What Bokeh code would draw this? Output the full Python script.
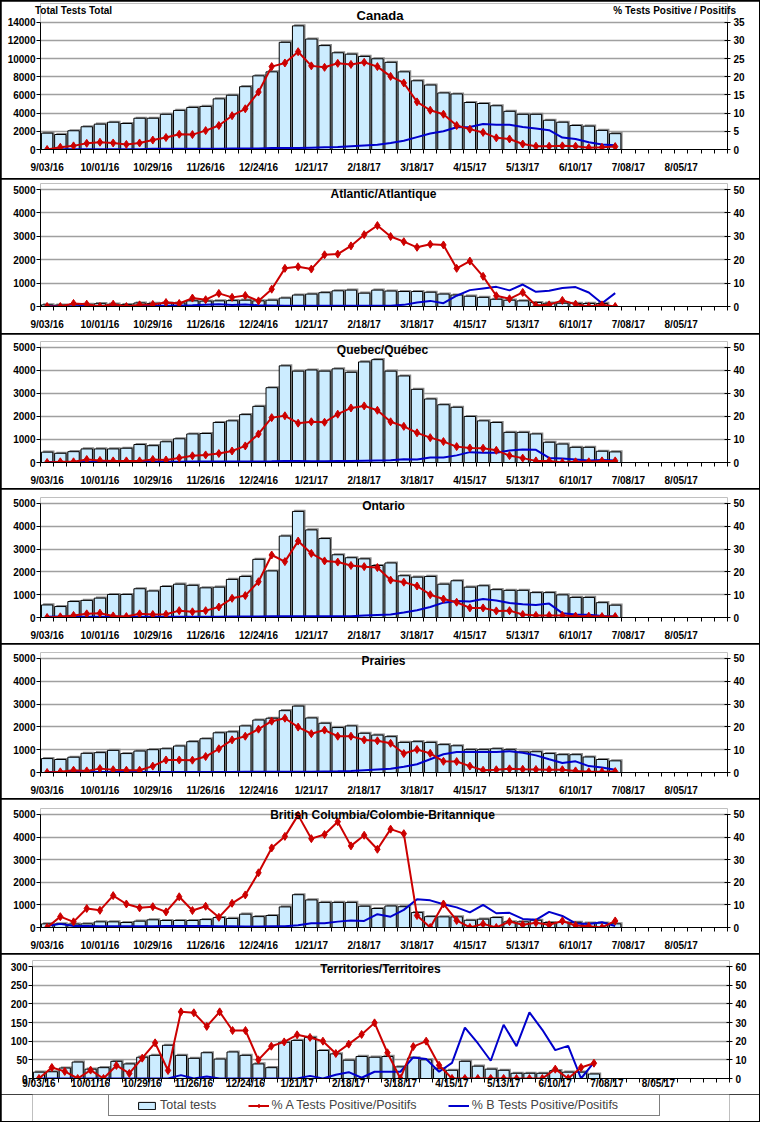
from bokeh.plotting import figure
from bokeh.models import Range1d, LinearAxis, FixedTicker, Label, Legend, LegendItem, ColumnDataSource
from bokeh.layouts import column
from bokeh.embed import file_html
from bokeh.resources import INLINE

# ---------------- data ----------------
tick_labels = ["9/03/16", "10/01/16", "10/29/16", "11/26/16", "12/24/16", "1/21/17", "2/18/17",
               "3/18/17", "4/15/17", "5/13/17", "6/10/17", "7/08/17", "8/05/17"]

canada_tests = [1800, 1650, 2060, 2500, 2790, 3000, 2860, 3440, 3440, 3870, 4300, 4630, 4740, 5570, 5970,
                6910, 8100, 8540, 11790, 13600, 12150, 11430, 10640, 10490, 10240, 9980, 9590, 8540, 7560,
                7090, 6220, 6110, 5170, 5060, 4810, 4200, 3870, 3870, 3220, 3000, 2640, 2570, 2100, 1740]
canada_a = [0, 0.6, 1.0, 1.7, 2.0, 1.8, 1.4, 1.8, 2.6, 3.3, 4.2, 4.1, 5.2, 6.6, 9.3, 11.2, 15.8, 22.8, 23.8,
            26.9, 23.0, 22.6, 23.7, 23.4, 24.0, 22.8, 20.1, 18.3, 13.1, 10.8, 9.7, 6.6, 5.6, 4.7, 3.2, 2.9,
            1.5, 0.9, 0.9, 1.0, 0.9, 0.5, 0.6, 0.8]
canada_b = [0.1, 0.1, 0.1, 0.1, 0.1, 0.1, 0.1, 0.1, 0.2, 0.2, 0.2, 0.2, 0.2, 0.2, 0.3, 0.3, 0.3, 0.4, 0.4,
            0.4, 0.5, 0.6, 0.7, 0.9, 1.1, 1.3, 1.8, 2.4, 3.4, 4.4, 5.0, 6.1, 6.2, 7.0, 6.8, 6.8, 6.2, 5.8,
            5.3, 3.3, 2.9, 2.0, 1.4, 1.2]

atl_tests = [70, 60, 80, 90, 120, 100, 80, 150, 130, 140, 150, 240, 230, 240, 250, 270, 240, 270, 360, 490,
             530, 590, 670, 700, 570, 700, 660, 640, 640, 610, 530, 490, 440, 390, 310, 270, 240, 170, 140,
             140, 130, 130, 130, 0]
atl_a = [0, 0, 1.3, 1.0, 0, 1.0, 0, 0.7, 0.9, 1.7, 1.3, 3.6, 2.9, 5.6, 3.9, 4.7, 2.4, 7.4, 16.3, 17.0, 16.0,
         22.1, 22.4, 25.9, 30.7, 34.6, 29.9, 27.7, 25.3, 26.6, 26.3, 16.3, 19.4, 12.9, 4.6, 3.3, 6.0, 0.4,
         0.7, 2.6, 1.0, 0, 0.7, 0]
atl_b = [0.1, 0.1, 0.1, 0.2, 0.2, 0.2, 0.2, 0.2, 0.3, 0.3, 0.4, 0.5, 0.8, 1.0, 0.6, 0.9, 0.5, 0.4, 0.3, 0.3,
         0.3, 0.3, 0.3, 0.3, 0.3, 0.3, 0.3, 0.7, 1.7, 2.4, 1.4, 4.6, 7.0, 7.7, 8.4, 6.9, 9.4, 6.3, 6.7, 7.9,
         8.3, 6.0, 1.4, 5.7]

que_tests = [450, 400, 470, 590, 590, 590, 620, 780, 730, 900, 1030, 1240, 1260, 1740, 1810, 2080, 2440,
             3250, 4200, 3970, 4020, 3970, 4070, 3920, 4370, 4470, 3970, 3760, 3180, 2760, 2510, 2400, 2000,
             1810, 1740, 1310, 1310, 1240, 880, 800, 660, 660, 490, 460]
que_a = [0, 0.3, 0.3, 1.3, 0.9, 0.7, 0.7, 0.7, 1.3, 1.1, 2.0, 2.9, 3.3, 3.9, 5.0, 7.2, 12.4, 19.5, 20.3, 17.1,
         17.7, 17.5, 21.0, 23.7, 24.6, 22.7, 17.7, 15.7, 12.9, 10.8, 9.1, 6.9, 6.3, 6.2, 5.3, 3.0, 1.9, 0.7,
         0.7, 0, 0.3, 0.3, 0.7, 0.7]
que_b = [0.2, 0.2, 0.2, 0.2, 0.2, 0.3, 0.3, 0.3, 0.3, 0.3, 0.3, 0.4, 0.4, 0.4, 0.4, 0.4, 0.4, 0.5, 0.7, 0.6,
         0.5, 0.5, 0.6, 0.7, 0.8, 0.9, 1.0, 1.4, 1.3, 2.2, 2.2, 3.1, 4.5, 4.2, 4.2, 5.2, 5.7, 5.5, 2.0, 1.7,
         1.3, 0.9, 1.1, 0.9]

ont_tests = [550, 480, 700, 750, 850, 1010, 1010, 1260, 1160, 1360, 1460, 1410, 1300, 1330, 1670, 1800,
             2550, 2040, 3570, 4650, 3840, 3460, 2750, 2620, 2570, 2280, 2390, 1830, 1770, 1800, 1460, 1610,
             1330, 1390, 1220, 1190, 1190, 1090, 1090, 990, 880, 880, 650, 540]
ont_a = [0, 0.3, 0.9, 1.6, 1.9, 0.7, 0.4, 1.6, 1.3, 1.4, 3.0, 2.5, 3.0, 4.6, 8.4, 9.6, 15.7, 27.4, 24.5, 33.5,
         28.1, 24.8, 24.3, 22.8, 22.3, 21.9, 16.4, 15.5, 13.8, 10.0, 8.1, 6.7, 4.2, 4.2, 2.9, 3.0, 1.3, 0.9,
         0.9, 0.9, 0.6, 0.6, 0.4, 0.4]
ont_b = [0.3, 0.4, 0.4, 0.3, 0.3, 0.3, 0.3, 0.3, 0.3, 0.3, 0.3, 0.3, 0.3, 0.3, 0.4, 0.4, 0.4, 0.5, 0.5, 0.5,
         0.5, 0.5, 0.5, 0.6, 0.9, 1.1, 1.3, 2.2, 3.2, 4.6, 6.5, 7.2, 7.0, 8.1, 7.5, 6.4, 5.8, 5.5, 6.1, 1.9,
         1.3, 1.2, 0.7, 0.4]

pra_tests = [610, 570, 670, 840, 870, 970, 830, 940, 1000, 1040, 1160, 1350, 1480, 1740, 1780, 2040, 2300,
             2380, 2710, 2910, 2390, 2160, 1970, 2040, 1720, 1640, 1570, 1320, 1350, 1320, 1220, 1170, 1000,
             1000, 1040, 1000, 900, 910, 830, 780, 780, 680, 570, 510]
pra_a = [0, 0.3, 1.0, 0.7, 1.7, 1.2, 1.0, 1.0, 2.8, 5.5, 5.5, 5.4, 7.0, 10.4, 14.3, 15.9, 19.0, 22.5, 23.8,
         19.9, 17.0, 18.6, 15.9, 15.9, 14.3, 13.9, 12.8, 8.3, 10.1, 8.4, 4.9, 4.8, 2.8, 1.0, 1.2, 1.6, 1.4,
         1.3, 1.2, 1.2, 0.7, 0.3, 0.3, 0.4]
pra_b = [0.2, 0.2, 0.2, 0.2, 0.2, 0.2, 0.2, 0.2, 0.2, 0.2, 0.2, 0.2, 0.2, 0.2, 0.2, 0.3, 0.3, 0.3, 0.3, 0.3,
         0.3, 0.4, 0.5, 0.7, 1.0, 1.3, 1.6, 2.5, 3.6, 5.8, 8.0, 9.0, 9.0, 9.0, 9.0, 9.3, 8.7, 7.5, 5.8, 4.2,
         4.9, 2.8, 2.2, 1.2]

bc_tests = [160, 160, 150, 160, 250, 250, 220, 280, 340, 310, 310, 310, 350, 440, 400, 590, 480, 530, 910,
            1450, 1220, 1110, 1110, 1110, 940, 840, 950, 920, 660, 480, 470, 470, 320, 370, 440, 250, 250,
            320, 220, 220, 230, 190, 200, 160]
bc_a = [0, 4.8, 2.5, 8.4, 7.6, 14.1, 10.4, 8.7, 9.2, 6.9, 13.6, 7.5, 9.4, 4.5, 10.7, 14.4, 24.2, 35.2, 40.3,
        49.7, 39.3, 41.1, 46.8, 36.1, 40.8, 34.6, 43.5, 41.5, 5.3, 0, 10.4, 3.1, 0, 1.6, 0, 2.6, 1.2, 2.1,
        1.2, 2.9, 0.9, 0.6, 0, 2.9]
bc_b = [0.7, 1.6, 0.7, 0.7, 0.6, 0.6, 0.6, 0.6, 0.6, 0.7, 0.7, 0.7, 0.7, 0.6, 0.5, 0.4, 0.4, 0.5, 0.6, 1.0,
        1.9, 1.9, 2.6, 3.1, 2.9, 5.9, 4.8, 7.8, 12.5, 12.0, 10.3, 8.9, 6.7, 10.0, 6.3, 6.5, 3.8, 3.4, 6.9,
        5.1, 1.8, 1.6, 2.3, 0.7]

ter_tests = [17, 18, 28, 44, 25, 29, 46, 39, 57, 62, 89, 62, 54, 69, 52, 71, 62, 39, 29, 97, 102, 110, 75,
             66, 49, 59, 57, 59, 31, 55, 50, 26, 22, 46, 33, 25, 22, 14, 14, 14, 21, 17, 17, 12]
ter_a = [0, 5.9, 3.8, 0, 4.5, 0, 7.0, 2.7, 10.9, 19.1, 4.3, 35.7, 35.2, 27.9, 35.7, 25.7, 25.7, 10.0, 17.3,
         19.6, 23.4, 22.0, 20.0, 13.4, 18.4, 23.6, 29.8, 13.8, 0, 17.1, 20.0, 7.1, 0, 0, 0, 0, 0, 0, 0, 0,
         5.0, 0, 5.9, 8.2]
ter_b = [0, 0, 0, 0, 0, 0, 0, 0, 0, 0, 0, 1.8, 0, 1.1, 0, 0, 0, 0, 0, 0, 0, 1.4, 0, 2.0, 3.4, 0.4, 3.6, 3.6,
         3.6, 11.3, 10.4, 3.6, 8.4, 27.3, 18.9, 9.5, 28.8, 17.3, 35.4, 26.1, 15.2, 17.5, 0, 8.6]

legend_labels = ["Total tests", "% A Tests Positive/Positifs", "% B Tests Positive/Positifs"]

# ---------------- styling ----------------
FONT = "Liberation Sans"
BAR = "#CCECFF"
RED = "#CC0000"
BLUE = "#0000CC"
W = 758  # figure width (page x 1 .. 759)


def panel(title, tests, pa, pb, ymax, ystep, pmax, pstep, fig_top, h, data_top, data_bottom,
          frame_left, frame_right, title_xy, ext=6, nslots=52, title_size="12px", xstand=8):
    top = int(round(data_top - ext - fig_top))
    bottom = int(round(fig_top + h - data_bottom))
    left = int(round(frame_left - 1))
    right = int(round(1 + W - frame_right))
    fh = h - top - bottom
    dh = data_bottom - data_top
    scale = fh / dh
    p = figure(width=W, height=h, x_range=Range1d(-0.5, nslots - 0.5), y_range=Range1d(0, ymax * scale),
               output_backend="svg", toolbar_location=None,
               min_border_left=left, min_border_right=right, min_border_top=top, min_border_bottom=bottom)
    p.outline_line_color = None
    p.background_fill_color = "white"
    p.border_fill_color = "white"
    p.extra_y_ranges = {"pct": Range1d(0, pmax * scale)}
    off = 1.6 * ymax / dh
    xs = list(range(len(tests)))
    src = ColumnDataSource(dict(x=xs, xs=[v + 0.13 for v in xs], tests=tests,
                                shadow=[t + off if t > 0 else 0 for t in tests], a=pa, b=pb))
    p.vbar(x="xs", top="shadow", width=0.86, source=src, fill_color="#8a8a8a", line_color=None)
    p.vbar(x="x", top="tests", width=0.86, source=src, fill_color=BAR, line_color="black", line_width=1)
    p.line("x", "b", source=src, y_range_name="pct", line_color=BLUE, line_width=2)
    p.line("x", "a", source=src, y_range_name="pct", line_color=RED, line_width=2)
    p.scatter("x", "a", source=src, y_range_name="pct", marker="diamond", size=8,
              fill_color=RED, line_color=RED)

    # x axis: labels every 4 weeks, small ticks between weeks
    xt = FixedTicker(ticks=list(range(0, 49, 4)), minor_ticks=[i - 0.5 for i in range(nslots + 1)])
    p.xaxis.ticker = xt
    p.xaxis.major_label_overrides = {i * 4: lab for i, lab in enumerate(tick_labels)}
    p.xaxis.major_tick_line_color = None
    p.xaxis.major_tick_in = 0
    p.xaxis.major_tick_out = 0
    p.xaxis.minor_tick_line_color = "black"
    p.xaxis.minor_tick_in = 0
    p.xaxis.minor_tick_out = 4
    p.xaxis.major_label_standoff = xstand
    p.xgrid.grid_line_color = None

    # left axis
    yt = FixedTicker(ticks=list(range(0, ymax + 1, ystep)))
    p.yaxis.ticker = yt
    p.yaxis.bounds = (0, ymax)
    p.ygrid.ticker = yt
    p.ygrid.grid_line_color = "#A0A0A0"
    p.ygrid.grid_line_width = 1.3
    p.yaxis.minor_tick_line_color = None
    p.yaxis.major_tick_in = 0
    p.yaxis.major_tick_out = 4
    p.yaxis.major_label_standoff = 1

    ax2 = LinearAxis(y_range_name="pct", ticker=FixedTicker(ticks=list(range(0, pmax + 1, pstep))),
                     bounds=(0, pmax))
    ax2.minor_tick_line_color = None
    ax2.major_tick_in = 3
    ax2.major_tick_out = 3
    ax2.major_label_standoff = 3
    p.add_layout(ax2, "right")

    for ax in p.axis:
        ax.axis_line_color = "black"
        ax.major_label_text_font = FONT
        ax.major_label_text_font_style = "bold"
        ax.major_label_text_font_size = "10px"
        ax.major_label_text_color = "black"

    tx, ty = title_xy
    p.add_layout(Label(x=tx - frame_left, y=data_bottom - ty, x_units="screen", y_units="screen",
                       text=title, text_align="center", text_baseline="middle", text_font=FONT,
                       text_font_style="bold", text_font_size=title_size, text_color="black"))
    return p


# ---------------- panels (positions in page pixels) ----------------
p1 = panel("Canada", canada_tests, canada_a, canada_b, 14000, 2000, 35, 5,
           fig_top=1, h=177, data_top=20, data_bottom=149, frame_left=40, frame_right=729,
           title_xy=(379.5, 15), ext=19, title_size="13px", xstand=8)
# corner texts above the Canada plot, carried by a label-only axis on top
top_ax = LinearAxis(ticker=FixedTicker(ticks=[2, 47.5]),
                    major_label_overrides={2: "Total Tests Total", 47.5: "% Tests Positive / Positifs"},
                    axis_line_color=None, major_tick_line_color=None, minor_tick_line_color=None,
                    major_tick_in=0, major_tick_out=0, minor_tick_in=0, minor_tick_out=0,
                    major_label_standoff=-12, major_label_text_font=FONT,
                    major_label_text_font_style="bold", major_label_text_font_size="10px",
                    major_label_text_color="black")
p1.add_layout(top_ax, "above")

p2 = panel("Atlantic/Atlantique", atl_tests, atl_a, atl_b, 5000, 1000, 50, 10,
           fig_top=179, h=154, data_top=189, data_bottom=306, frame_left=37, frame_right=727,
           title_xy=(380, 193.8))
p3 = panel("Quebec/Québec", que_tests, que_a, que_b, 5000, 1000, 50, 10,
           fig_top=334, h=154, data_top=347, data_bottom=463, frame_left=37, frame_right=727,
           title_xy=(379, 350))
p4 = panel("Ontario", ont_tests, ont_a, ont_b, 5000, 1000, 50, 10,
           fig_top=489, h=154, data_top=503, data_bottom=618, frame_left=37, frame_right=727,
           title_xy=(380, 506))
p5 = panel("Prairies", pra_tests, pra_a, pra_b, 5000, 1000, 50, 10,
           fig_top=644, h=154, data_top=658, data_bottom=773, frame_left=37, frame_right=727,
           title_xy=(380, 661))
p6 = panel("British Columbia/Colombie-Britannique", bc_tests, bc_a, bc_b, 5000, 1000, 50, 10,
           fig_top=799, h=154, data_top=814, data_bottom=928, frame_left=37, frame_right=727,
           title_xy=(379, 815.7))
p7 = panel("Territories/Territoires", ter_tests, ter_a, ter_b, 300, 50, 60, 10,
           fig_top=954, h=140, data_top=966, data_bottom=1078, frame_left=32,
           frame_right=729, title_xy=(380, 968.3), nslots=54, xstand=-5)

# ---------------- legend strip (page y 1094 .. 1120) ----------------
LH = 27
lf = figure(width=W, height=LH, x_range=Range1d(0, 1), y_range=Range1d(0, 1), output_backend="svg",
            toolbar_location=None, x_axis_type=None, y_axis_type=None, min_border=0)
lf.outline_line_color = None
lf.background_fill_color = "white"
lf.border_fill_color = "white"
# legend sample glyphs: one point each, placed outside the visible range
blank = lf.line(x=[-5, -4], y=[-5, -5], line_alpha=0)
g_bar = lf.vbar(x=[-5], top=[-5], width=0.1, fill_color=BAR, line_color="black", line_width=1)
g_red = lf.line(x=[-5, -4], y=[-5, -5], line_color=RED, line_width=2)
g_mark = lf.scatter(x=[-5], y=[-5], marker="diamond", size=8, fill_color=RED, line_color=RED)
g_blue = lf.line(x=[-5, -4], y=[-5, -5], line_color=BLUE, line_width=2)
# a leading blank item and trailing blanks reproduce the wide legend box of the original
legend = Legend(items=[LegendItem(label="  ", renderers=[blank]),
                       LegendItem(label=legend_labels[0] + " " * 9, renderers=[g_bar]),
                       LegendItem(label=legend_labels[1] + " " * 9, renderers=[g_red, g_mark]),
                       LegendItem(label=legend_labels[2] + " " * 11, renderers=[g_blue])],
                orientation="horizontal", location=(76, 5),
                padding=3, spacing=0, label_standoff=3, glyph_width=21, glyph_height=9,
                label_width=0, label_height=12, border_line_color="black", border_line_width=1,
                background_fill_color="white", background_fill_alpha=1,
                label_text_font=FONT, label_text_font_size="12.5px")
lf.add_layout(legend)

bottom_block = column(p7, lf, spacing=0)
layout = column(p1, p2, p3, p4, p5, p6, bottom_block, spacing=1,
                styles={"background-color": "black", "border": "1px solid black"})

open("out.html", "w").write(file_html(layout, INLINE))
